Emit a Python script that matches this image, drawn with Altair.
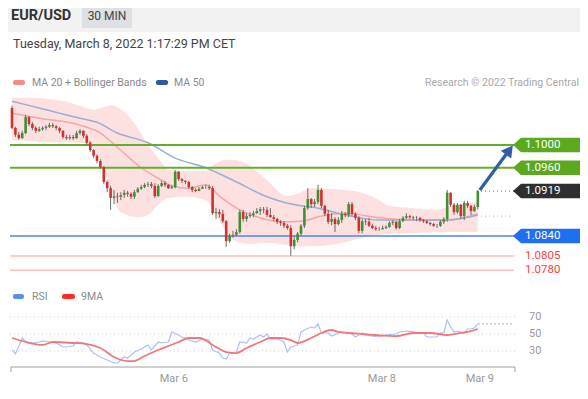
import altair as alt
import pandas as pd

FONT = "Roboto"

# ---------------- data ----------------
opens = [
    1.1065, 1.1030, 1.1018, 1.1012, 1.1021, 1.1049, 1.1037, 1.1030, 1.1025, 1.1028,
    1.1030, 1.1032, 1.1035, 1.1033, 1.1030, 1.1025, 1.1014, 1.1012, 1.1014, 1.1012,
    1.1021, 1.1025, 1.1016, 1.1004, 1.0991, 1.0981, 1.0972, 1.0961, 1.0935, 1.0924,
    1.0907, 1.0910, 1.0909, 1.0912, 1.0916, 1.0914, 1.0909, 1.0917, 1.0923, 1.0926,
    1.0930, 1.0931, 1.0928, 1.0910, 1.0928, 1.0933, 1.0930, 1.0924, 1.0926, 1.0953,
    1.0940, 1.0937, 1.0935, 1.0926, 1.0921, 1.0919, 1.0923, 1.0926, 1.0926, 1.0924,
    1.0880, 1.0882, 1.0879, 1.0866, 1.0831, 1.0840, 1.0842, 1.0847, 1.0882, 1.0870,
    1.0875, 1.0877, 1.0880, 1.0884, 1.0887, 1.0886, 1.0877, 1.0873, 1.0870, 1.0865,
    1.0863, 1.0858, 1.0854, 1.0822, 1.0833, 1.0844, 1.0858, 1.0889, 1.0905, 1.0896,
    1.0900, 1.0921, 1.0893, 1.0879, 1.0865, 1.0870, 1.0861, 1.0868, 1.0879, 1.0877,
    1.0896, 1.0879, 1.0872, 1.0849, 1.0866, 1.0865, 1.0858, 1.0854, 1.0852, 1.0852,
    1.0854, 1.0856, 1.0863, 1.0865, 1.0854, 1.0866, 1.0872, 1.0875, 1.0873, 1.0872,
    1.0872, 1.0868, 1.0866, 1.0863, 1.0861, 1.0858, 1.0858, 1.0865, 1.0870, 1.0916,
    1.0895, 1.0882, 1.0895, 1.0875, 1.0898, 1.0893, 1.0884, 1.0891,
]
closes = [
    1.1030, 1.1018, 1.1012, 1.1021, 1.1049, 1.1037, 1.1030, 1.1025, 1.1028, 1.1030,
    1.1032, 1.1035, 1.1033, 1.1030, 1.1025, 1.1014, 1.1012, 1.1014, 1.1012, 1.1021,
    1.1025, 1.1016, 1.1004, 1.0991, 1.0981, 1.0972, 1.0961, 1.0935, 1.0924, 1.0907,
    1.0910, 1.0909, 1.0912, 1.0916, 1.0914, 1.0909, 1.0917, 1.0923, 1.0926, 1.0930,
    1.0931, 1.0928, 1.0910, 1.0928, 1.0933, 1.0930, 1.0924, 1.0926, 1.0953, 1.0940,
    1.0937, 1.0935, 1.0926, 1.0921, 1.0919, 1.0923, 1.0926, 1.0926, 1.0924, 1.0880,
    1.0882, 1.0879, 1.0866, 1.0831, 1.0840, 1.0842, 1.0847, 1.0882, 1.0870, 1.0875,
    1.0877, 1.0880, 1.0884, 1.0887, 1.0886, 1.0877, 1.0873, 1.0870, 1.0865, 1.0863,
    1.0858, 1.0854, 1.0822, 1.0833, 1.0844, 1.0858, 1.0889, 1.0905, 1.0896, 1.0900,
    1.0921, 1.0893, 1.0879, 1.0865, 1.0870, 1.0861, 1.0868, 1.0879, 1.0877, 1.0896,
    1.0879, 1.0872, 1.0849, 1.0866, 1.0865, 1.0858, 1.0854, 1.0852, 1.0852, 1.0854,
    1.0856, 1.0863, 1.0865, 1.0854, 1.0866, 1.0872, 1.0875, 1.0873, 1.0872, 1.0872,
    1.0868, 1.0866, 1.0863, 1.0861, 1.0858, 1.0858, 1.0865, 1.0870, 1.0916, 1.0895,
    1.0882, 1.0895, 1.0875, 1.0898, 1.0893, 1.0884, 1.0891, 1.0919,
]
highs = [
    1.1069, 1.1032, 1.1023, 1.1025, 1.1053, 1.1051, 1.1040, 1.1033, 1.1032, 1.1033,
    1.1035, 1.1039, 1.1039, 1.1035, 1.1032, 1.1026, 1.1018, 1.1018, 1.1018, 1.1025,
    1.1028, 1.1026, 1.1019, 1.1007, 1.0993, 1.0984, 1.0975, 1.0963, 1.0938, 1.0928,
    1.0921, 1.0916, 1.0917, 1.0921, 1.0919, 1.0917, 1.0921, 1.0926, 1.0930, 1.0933,
    1.0935, 1.0935, 1.0933, 1.0931, 1.0937, 1.0937, 1.0931, 1.0930, 1.0956, 1.0954,
    1.0942, 1.0938, 1.0937, 1.0928, 1.0924, 1.0926, 1.0928, 1.0930, 1.0930, 1.0928,
    1.0889, 1.0887, 1.0886, 1.0868, 1.0844, 1.0849, 1.0852, 1.0886, 1.0886, 1.0880,
    1.0882, 1.0884, 1.0889, 1.0891, 1.0891, 1.0891, 1.0889, 1.0877, 1.0872, 1.0868,
    1.0866, 1.0861, 1.0859, 1.0840, 1.0847, 1.0861, 1.0893, 1.0924, 1.0907, 1.0905,
    1.0930, 1.0924, 1.0895, 1.0886, 1.0880, 1.0873, 1.0873, 1.0884, 1.0882, 1.0900,
    1.0900, 1.0882, 1.0875, 1.0870, 1.0870, 1.0872, 1.0861, 1.0858, 1.0856, 1.0858,
    1.0859, 1.0866, 1.0868, 1.0866, 1.0870, 1.0875, 1.0880, 1.0877, 1.0875, 1.0875,
    1.0873, 1.0870, 1.0868, 1.0865, 1.0863, 1.0861, 1.0868, 1.0873, 1.0921, 1.0917,
    1.0898, 1.0898, 1.0896, 1.0902, 1.0902, 1.0895, 1.0895, 1.0921,
]
lows = [
    1.1028, 1.1014, 1.1009, 1.1011, 1.1019, 1.1033, 1.1026, 1.1021, 1.1023, 1.1025,
    1.1026, 1.1030, 1.1030, 1.1026, 1.1021, 1.1011, 1.1009, 1.1009, 1.1009, 1.1011,
    1.1018, 1.1012, 1.1000, 1.0988, 1.0977, 1.0968, 1.0958, 1.0931, 1.0917, 1.0886,
    1.0896, 1.0898, 1.0903, 1.0907, 1.0909, 1.0905, 1.0905, 1.0916, 1.0921, 1.0924,
    1.0926, 1.0924, 1.0907, 1.0909, 1.0926, 1.0926, 1.0923, 1.0923, 1.0924, 1.0937,
    1.0933, 1.0931, 1.0923, 1.0917, 1.0917, 1.0919, 1.0923, 1.0923, 1.0921, 1.0877,
    1.0870, 1.0872, 1.0863, 1.0821, 1.0828, 1.0837, 1.0840, 1.0844, 1.0865, 1.0865,
    1.0872, 1.0873, 1.0879, 1.0877, 1.0880, 1.0873, 1.0872, 1.0866, 1.0861, 1.0858,
    1.0854, 1.0851, 1.0805, 1.0817, 1.0829, 1.0840, 1.0854, 1.0886, 1.0889, 1.0891,
    1.0896, 1.0889, 1.0875, 1.0861, 1.0859, 1.0847, 1.0859, 1.0863, 1.0873, 1.0873,
    1.0875, 1.0868, 1.0845, 1.0845, 1.0859, 1.0856, 1.0852, 1.0849, 1.0849, 1.0851,
    1.0852, 1.0854, 1.0859, 1.0851, 1.0852, 1.0865, 1.0870, 1.0870, 1.0868, 1.0866,
    1.0865, 1.0863, 1.0861, 1.0858, 1.0856, 1.0854, 1.0856, 1.0861, 1.0865, 1.0891,
    1.0877, 1.0879, 1.0870, 1.0868, 1.0889, 1.0877, 1.0882, 1.0887,
]

ma50_i = [0, 8, 20, 25, 31, 40, 48, 57, 65, 75, 85, 88, 98, 108, 118, 128, 134, 137]
ma50_v = [1.1077, 1.1065, 1.1047, 1.1040, 1.1021, 1.1004, 1.0977, 1.0960, 1.0938,
          1.0909, 1.0893, 1.0891, 1.0877, 1.0868, 1.0868, 1.0868, 1.0873, 1.0877]

ma20_i = [0, 8, 20, 26, 31, 38, 44, 47, 52, 57, 61, 67, 73, 79, 85, 91, 98, 108, 118, 128, 137]
ma20_v = [1.1056, 1.1047, 1.1035, 1.1021, 1.0996, 1.0960, 1.0938, 1.0928, 1.0924, 1.0930,
          1.0910, 1.0886, 1.0872, 1.0865, 1.0866, 1.0875, 1.0880, 1.0872, 1.0868, 1.0868, 1.0879]

bb_i = [0, 5, 11, 16, 20, 24, 27, 29, 32, 37, 40, 43, 46, 51, 57, 60, 63, 65, 70, 75,
        81, 85, 88, 98, 103, 108, 111, 118, 125, 128, 137]
bb_upper = [1.1083, 1.1083, 1.1081, 1.1076, 1.1069, 1.1062, 1.1067, 1.1070, 1.1063, 1.1030,
            1.1000, 1.0977, 1.0956, 1.0954, 1.0954, 1.0968, 1.0974, 1.0974, 1.0963, 1.0938,
            1.0910, 1.0917, 1.0924, 1.0921, 1.0916, 1.0903, 1.0893, 1.0889, 1.0886, 1.0891, 1.0900]
bb_lower = [1.1009, 1.1007, 1.1005, 1.1005, 1.1004, 1.0995, 1.0960, 1.0921, 1.0882, 1.0873,
            1.0877, 1.0895, 1.0907, 1.0909, 1.0903, 1.0877, 1.0847, 1.0833, 1.0826, 1.0828,
            1.0824, 1.0822, 1.0822, 1.0829, 1.0837, 1.0842, 1.0844, 1.0845, 1.0847, 1.0847, 1.0847]

rsi_i = [0, 1, 3, 4, 6, 8, 9, 11, 13, 15, 16, 18, 19, 21, 22, 24, 26, 28, 30, 31,
         33, 34, 36, 38, 40, 41, 43, 44, 46, 47, 49, 50, 52, 54, 56, 58, 59, 61, 62, 63,
         64, 66, 67, 69, 70, 71, 73, 74, 75, 76, 78, 80, 81, 82, 84, 85, 86, 88, 89, 90,
         91, 93, 94, 96, 97, 99, 100, 101, 103, 104, 106, 108, 110, 113, 114, 116, 118, 119, 121, 122,
         124, 125, 126, 127, 128, 129, 130, 131, 133, 134, 135, 136, 137]
rsi_v = [31.2, 26.5, 45.3, 40.6, 39.4, 40.6, 41.8, 40.6, 39.4, 34.7, 34.7, 35.9, 40.6, 39.4, 37.1, 27.6, 22.9, 19.4, 15.9, 15.9,
         22.9, 21.8, 28.8, 32.4, 37.1, 31.2, 40.6, 39.4, 40.6, 52.4, 48.8, 46.5, 42.9, 40.6, 44.1, 42.9, 31.2, 27.6, 21.8, 20.6,
         27.6, 28.8, 40.6, 39.4, 45.3, 44.1, 48.8, 46.5, 50.0, 44.1, 44.1, 40.6, 28.8, 34.7, 37.1, 52.4, 54.7, 58.2, 57.1, 61.8,
         51.2, 51.2, 47.6, 51.2, 52.4, 51.2, 50.0, 46.5, 51.2, 48.8, 47.6, 46.5, 48.8, 50.0, 52.4, 53.5, 52.4, 51.2, 51.2, 46.5,
         46.5, 46.5, 51.2, 51.2, 66.5, 58.2, 52.4, 53.5, 51.2, 55.9, 55.9, 57.1, 61.8]

ma9_i = [0, 4, 9, 12, 18, 22, 26, 30, 34, 36, 39, 43, 46, 49, 52, 55, 60, 63, 66, 69,
         73, 76, 79, 82, 84, 88, 91, 94, 96, 99, 103, 107, 113, 118, 123, 128, 132, 135, 137]
ma9_v = [45.3, 40.6, 37.1, 40.6, 39.4, 38.2, 33.5, 22.9, 18.2, 18.2, 24.1, 31.2, 35.9, 40.6, 45.3, 45.3, 34.7, 28.8, 27.6, 33.5,
         40.6, 45.3, 45.3, 42.9, 39.4, 45.3, 51.2, 54.7, 52.4, 51.2, 50.0, 48.8, 47.6, 51.2, 51.2, 48.8, 51.2, 53.5, 55.9]

resist_levels = [1.1000, 1.0960]
resist_labels = ["1.1000", "1.0960"]
last_price = [1.0919]
last_label = ["1.0919"]
ma50_last = [1.0875]
support_levels = [1.0840]
support_labels = ["1.0840"]
support2_levels = [1.0805, 1.0780]
support2_labels = ["1.0805", "1.0780"]

arrow_i = [137.6, 145.9]
arrow_p = [1.0921, 1.0988]
arrow_tip_i = [146.3]
arrow_tip_p = [1.0991]

rsi_grid = [70, 50, 30]
rsi_grid_labels = ["70", "50", "30"]
rsi_last = [61.8]

date_labels = ["Mar 6", "Mar 8", "Mar 9"]
date_pos = [47.6, 108.8, 137.6]

# ---------------- tables ----------------
candles = pd.DataFrame({"i": list(range(len(closes))), "open": opens, "close": closes,
                        "high": highs, "low": lows})
ma50 = pd.DataFrame({"i": ma50_i, "v": ma50_v})
ma20 = pd.DataFrame({"i": ma20_i, "v": ma20_v})
bb = pd.DataFrame({"i": bb_i, "upper": bb_upper, "lower": bb_lower})
rsi = pd.DataFrame({"i": rsi_i, "v": rsi_v})
ma9 = pd.DataFrame({"i": ma9_i, "v": ma9_v})
one = pd.DataFrame({"k": [0]})

W, H = 572, 383
X_DOMAIN = [-4 / 3.4, 568 / 3.4]
P_DOMAIN = [1.1 - 246 / 5687.5, 1.1 + 137 / 5687.5]
R_DOMAIN = [50 - 57 / 0.85, 50 + 326 / 0.85]


def X(f):
    return alt.X(f, type="quantitative", axis=None,
                 scale=alt.Scale(domain=X_DOMAIN, nice=False, zero=False))


def YP(f):
    return alt.Y(f, type="quantitative", axis=None,
                 scale=alt.Scale(domain=P_DOMAIN, nice=False, zero=False))


def YR(f):
    return alt.Y(f, type="quantitative", axis=None,
                 scale=alt.Scale(domain=R_DOMAIN, nice=False, zero=False))


def text(t, x, y, size, color, align="left", weight="normal"):
    return alt.Chart(one).mark_text(
        text=t, align=align, baseline="middle", fontSize=size, color=color,
        font=FONT, fontWeight=weight).encode(x=alt.value(x), y=alt.value(y))


def rect(x, x2, y, y2, color, r=0):
    return alt.Chart(one).mark_rect(color=color, cornerRadius=r).encode(
        x=alt.value(x), x2=alt.value(x2), y=alt.value(y), y2=alt.value(y2))


BOX = "M-1,0 L-0.8,-0.18 L1,-0.18 L1,0.18 L-0.8,0.18 Z"

layers = []
# header
layers.append(rect(0, W, 0, 24, "#f2f2f2"))
layers.append(rect(74, 124, 0, 20, "#dde0e4"))
layers.append(text("EUR/USD", 3, 8, 14.5, "#333333", weight="bold"))
layers.append(text("30 MIN", 99, 8, 12, "#444444", align="center"))
layers.append(text("Tuesday, March 8, 2022 1:17:29 PM CET", 5, 36, 12.5, "#444444"))
# legend
layers.append(rect(5, 17, 72, 77, "#f28c8c", 2))
layers.append(text("MA 20 + Bollinger Bands", 24, 74.5, 10.5, "#8a8a8a"))
layers.append(rect(148, 160, 72, 77, "#2f5b9e", 2))
layers.append(text("MA 50", 166, 74.5, 10.5, "#8a8a8a"))
layers.append(text("Research \u00a9 2022 Trading Central", 571, 75, 10.5, "#a8a8a8", align="right"))

# bollinger band & MAs
layers.append(alt.Chart(bb).mark_area(color="#fde1e1", interpolate="monotone").encode(
    x=X("i"), y=YP("upper"), y2="lower"))
layers.append(alt.Chart(ma20).mark_line(color="#f6a6a6", strokeWidth=1.5, interpolate="monotone").encode(
    x=X("i"), y=YP("v")))
layers.append(alt.Chart(ma50).mark_line(color="#9aaed5", strokeWidth=1.5, interpolate="monotone").encode(
    x=X("i"), y=YP("v")))

# level lines
layers.append(alt.Chart(pd.DataFrame({"p": resist_levels})).mark_rule(color="#62b02a", strokeWidth=2).encode(
    x=alt.value(2), x2=alt.value(506), y=YP("p")))
layers.append(alt.Chart(pd.DataFrame({"p": support_levels})).mark_rule(color="#4f86e6", strokeWidth=1.5).encode(
    x=alt.value(2), x2=alt.value(506), y=YP("p")))
layers.append(alt.Chart(pd.DataFrame({"p": support2_levels})).mark_rule(color="#ffbcbc", strokeWidth=1.5).encode(
    x=alt.value(2), x2=alt.value(506), y=YP("p")))

# candles
layers.append(alt.Chart(candles).mark_rule(color="#6a6a6a", strokeWidth=1).encode(
    x=X("i"), y=YP("low"), y2="high"))
layers.append(alt.Chart(candles).transform_calculate(
    dir="datum.close >= datum.open ? 'up' : 'down'"
).mark_rule(strokeWidth=2.6, strokeCap="butt").encode(
    x=X("i"), y=YP("open"), y2="close",
    color=alt.Color("dir:N", legend=None,
                    scale=alt.Scale(domain=["up", "down"], range=["#3f8f35", "#d3302c"]))))

# dotted continuations
layers.append(alt.Chart(pd.DataFrame({"p": last_price})).mark_rule(
    color="#666666", strokeWidth=1, strokeDash=[1, 3]).encode(
    x=alt.value(473), x2=alt.value(507), y=YP("p")))
layers.append(alt.Chart(pd.DataFrame({"p": ma50_last})).mark_rule(
    color="#9fb5e3", strokeWidth=1, strokeDash=[1, 3]).encode(
    x=alt.value(473), x2=alt.value(505), y=YP("p")))

# arrow
layers.append(alt.Chart(pd.DataFrame({"i": arrow_i, "p": arrow_p})).mark_line(
    color="#2d5fa6", strokeWidth=3.2).encode(x=X("i"), y=YP("p")))
layers.append(alt.Chart(pd.DataFrame({"i": arrow_tip_i, "p": arrow_tip_p})).mark_point(
    shape="triangle-up", filled=True, size=170, angle=37, color="#2d5fa6", opacity=1).encode(
    x=X("i"), y=YP("p")))

# label boxes
def boxes(vals, labels, fill):
    df = pd.DataFrame({"p": vals, "t": labels})
    b = alt.Chart(df).mark_point(shape=BOX, filled=True, size=6400, color=fill,
                                 opacity=1, strokeWidth=0).encode(x=alt.value(545), y=YP("p"))
    t = alt.Chart(df).mark_text(align="left", baseline="middle", fontSize=11.5, color="white",
                                font=FONT).encode(x=alt.value(517), y=YP("p"), text="t:N")
    return [b, t]

layers += boxes(resist_levels, resist_labels, "#5ca81f")
layers += boxes(last_price, last_label, "#2f2f2f")
layers += boxes(support_levels, support_labels, "#1f6ff2")
layers.append(alt.Chart(pd.DataFrame({"p": support2_levels, "t": support2_labels})).mark_text(
    align="left", baseline="middle", fontSize=11.5, color="#ff3d3d", font=FONT).encode(
    x=alt.value(517), y=YP("p"), text="t:N"))

# ---------------- RSI panel ----------------
layers.append(rect(5, 16, 286, 291, "#5b8fee", 2))
layers.append(text("RSI", 24, 288.5, 10.5, "#8a8a8a"))
layers.append(rect(54, 67, 286, 291, "#ff2b2b", 2))
layers.append(text("9MA", 73, 288.5, 10.5, "#8a8a8a"))

grid = pd.DataFrame({"v": rsi_grid, "t": rsi_grid_labels})
layers.append(alt.Chart(grid).mark_rule(color="#cfcfcf", strokeWidth=1, strokeDash=[1, 3]).encode(
    x=alt.value(2), x2=alt.value(507), y=YR("v")))
layers.append(alt.Chart(grid).mark_text(align="left", baseline="middle", fontSize=11, color="#999999",
                                        font=FONT).encode(x=alt.value(521), y=YR("v"), text="t:N"))
layers.append(alt.Chart(rsi).mark_line(color="#a9c1f4", strokeWidth=1.2).encode(x=X("i"), y=YR("v")))
layers.append(alt.Chart(ma9).mark_line(color="#f27878", strokeWidth=1.8, interpolate="monotone").encode(
    x=X("i"), y=YR("v")))
layers.append(alt.Chart(pd.DataFrame({"v": rsi_last})).mark_rule(
    color="#a9c1f4", strokeWidth=1.2, strokeDash=[2, 2]).encode(
    x=alt.value(470), x2=alt.value(505), y=YR("v")))

# time axis
layers.append(alt.Chart(one).mark_rule(color="#a0a0a0", strokeWidth=1).encode(
    x=alt.value(3), x2=alt.value(507), y=alt.value(359)))
layers.append(alt.Chart(one).mark_rule(color="#a0a0a0", strokeWidth=1).encode(
    x=alt.value(3), y=alt.value(359), y2=alt.value(364)))
layers.append(alt.Chart(one).mark_rule(color="#a0a0a0", strokeWidth=1).encode(
    x=alt.value(507), y=alt.value(359), y2=alt.value(364)))
layers.append(alt.Chart(pd.DataFrame({"i": date_pos, "t": date_labels})).mark_text(
    align="center", baseline="middle", fontSize=11, color="#999999", font=FONT).encode(
    x=X("i"), y=alt.value(371), text="t:N"))

chart = alt.layer(*layers).resolve_scale(y="independent").properties(
    width=W, height=H, padding=0, autosize=alt.AutoSizeParams(type="none"),
    background="white",
).configure_view(stroke=None)

chart.save("out.html", embed_options={"renderer": "svg", "actions": False})
